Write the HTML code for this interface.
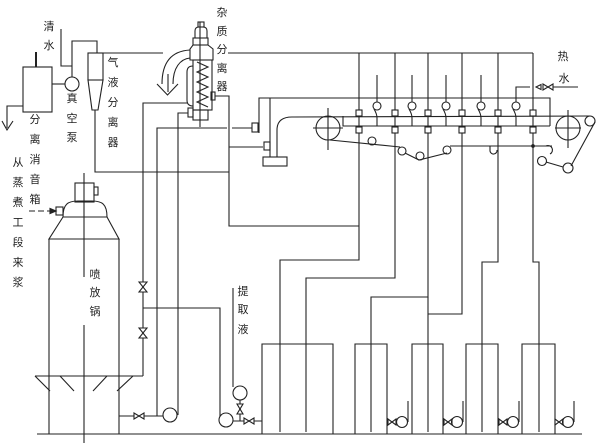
<!DOCTYPE html>
<html><head><meta charset="utf-8"><style>
html,body{margin:0;padding:0;background:#fff;}
svg{display:block;}
text{font-family:"Liberation Sans","Noto Sans CJK SC",sans-serif;font-size:11px;fill:#222;text-anchor:middle;dominant-baseline:central;}
</style></head><body>
<svg width="600" height="447" viewBox="0 0 600 447" xmlns="http://www.w3.org/2000/svg">
<g fill="none" stroke="#222" stroke-width="1.1">
<!-- left: water, separator box, pump, cyclone -->
<polyline points="61,29 61,66 72,66"/>
<line x1="36" y1="52" x2="36" y2="67" stroke-width="2"/>
<rect x="23" y="67" width="29" height="45"/>
<line x1="52" y1="84" x2="65" y2="84"/>
<circle cx="72" cy="84" r="7"/>
<polyline points="72,77 72,41 97,41 97,53"/>
<polyline points="23,106 7,106 7,128"/>
<polyline points="2,121 7,130 13,121"/>
<rect x="88" y="53" width="15" height="27"/>
<polygon points="88,80 103,80 98,110 92,110"/>
<polyline points="95,110 95,172 229,172"/>
<line x1="103" y1="53" x2="163" y2="53"/>
<line x1="228" y1="53" x2="533" y2="53"/>

<!-- impurity separator -->
<rect x="198" y="22" width="6" height="5"/>
<path d="M195,38 L195,31 Q195,27 199,27 L203,27 Q207,27 207,31 L207,38 Z"/>
<rect x="193" y="38" width="15" height="7"/>
<path d="M193,45 L208,45 L213,49 L213,60 L190,60 L190,49 Z"/>
<rect x="193" y="60" width="19" height="50"/>
<polyline points="197,62 208,67 197,72 208,77 197,82 208,87 197,92 208,97 197,102 208,107"/>
<path d="M193,66 Q187,66 187,72 L187,100 Q187,106 193,106"/>
<rect x="193" y="110" width="15" height="10"/>
<line x1="200" y1="22" x2="200" y2="127"/>
<rect x="188" y="108" width="5" height="9"/>
<rect x="211" y="92" width="4" height="8"/>
<path d="M190,50 C172,51 162,62 162,84"/>
<path d="M190,58 C180,59 173,68 173,84"/>
<polyline points="157,84 167.5,95 178,84"/>
<line x1="168" y1="74" x2="168" y2="92"/>
<polyline points="215,96 229,96 229,226 359,226"/>
<line x1="229" y1="147" x2="263" y2="147"/>
<polyline points="143,376 143,103 187,103"/>
<polyline points="157,416 157,128 227,128"/>
<line x1="232" y1="128" x2="252" y2="128"/>
<polyline points="178,415 178,113 188,113"/>

<!-- washer left structure -->
<polyline points="259,133 259,98 550,98 550,126"/>
<line x1="270" y1="98" x2="270" y2="157"/>
<rect x="252" y="123" width="6" height="9"/>
<rect x="264" y="142" width="6" height="8"/>
<rect x="263" y="157" width="24" height="9"/>
<path d="M277,157 L277,130 Q277,117 292,117 L590,116"/>
<polyline points="343,116 343,126 550,126"/>
<circle cx="328" cy="128" r="12"/>
<line x1="313" y1="128" x2="343" y2="128"/>
<line x1="328" y1="108" x2="328" y2="150"/>
<circle cx="568" cy="128" r="12"/>
<line x1="555" y1="128" x2="581" y2="128"/>
<line x1="568" y1="110" x2="568" y2="148"/>
<!-- bottom wire -->
<polyline points="330,140 400,147"/>
<circle cx="372" cy="141" r="4"/>
<circle cx="402" cy="151" r="4"/>
<polyline points="405,153 419,160 447,153"/>
<circle cx="420" cy="156" r="4"/>
<circle cx="447" cy="150" r="4"/>
<line x1="450" y1="146" x2="552" y2="146"/>
<path d="M490,146 L490,151 A3.5,3.5 0 1 0 497,150"/>
<path d="M546,146 A4,4 0 1 1 550,154"/>
<circle cx="533" cy="146" r="1.3" fill="#222"/>
<circle cx="590" cy="121" r="5"/>
<line x1="595" y1="122" x2="571" y2="166"/>
<circle cx="568" cy="168" r="5"/>
<line x1="563" y1="167" x2="546" y2="162"/>
<circle cx="542" cy="161" r="4.5"/>
<!-- top rollers -->
<g>
<line x1="377" y1="75" x2="377" y2="102"/><circle cx="377" cy="106" r="4"/><path d="M374,109 Q377,114 377,118 L377,126"/>
<line x1="412" y1="75" x2="412" y2="102"/><circle cx="412" cy="106" r="4"/><path d="M409,109 Q412,114 412,118 L412,126"/>
<line x1="446" y1="75" x2="446" y2="102"/><circle cx="446" cy="106" r="4"/><path d="M443,109 Q446,114 446,118 L446,126"/>
<line x1="481" y1="75" x2="481" y2="102"/><circle cx="481" cy="106" r="4"/><path d="M478,109 Q481,114 481,118 L481,126"/>
<polyline points="516,102 516,87 530,87"/><circle cx="516" cy="106" r="4"/><path d="M513,109 Q516,114 516,118 L516,126"/>
</g>
<polygon points="536,87 541,84.5 541,89.5" fill="#fff"/>
<polygon points="543,84 543,90 548,87" fill="#fff"/>
<polygon points="553,84 553,90 548,87" fill="#fff"/>
<line x1="553" y1="87" x2="578" y2="87"/>
<!-- shower pipes -->
<polyline points="359,53 359,260 280,260 280,432"/>
<polyline points="395,53 395,278 306,278 306,432"/>
<polyline points="428,53 428,297 371,297 371,432"/>
<polyline points="428,297 428,432"/>
<polyline points="462,53 462,314 428,314"/>
<polyline points="498,53 498,262 482,262 482,432"/>
<polyline points="533,53 533,262 539,262 539,432"/>
<g fill="#fff">
<rect x="356" y="110" width="6" height="6"/><rect x="356" y="127" width="6" height="6"/>
<rect x="392" y="110" width="6" height="6"/><rect x="392" y="127" width="6" height="6"/>
<rect x="425" y="110" width="6" height="6"/><rect x="425" y="127" width="6" height="6"/>
<rect x="459" y="110" width="6" height="6"/><rect x="459" y="127" width="6" height="6"/>
<rect x="495" y="110" width="6" height="6"/><rect x="495" y="127" width="6" height="6"/>
<rect x="530" y="110" width="6" height="6"/><rect x="530" y="127" width="6" height="6"/>
</g>

<!-- blow tank -->
<rect x="75" y="183" width="19" height="19"/>
<rect x="94" y="187" width="4" height="8"/>
<path d="M63,217 C63,204 68,201 78,201 L92,201 C102,201 107,204 107,217 Z"/>
<polyline points="63,217 49,239 119,239 107,217"/>
<line x1="49" y1="239" x2="49" y2="434"/>
<line x1="119" y1="239" x2="119" y2="434"/>
<rect x="56" y="207" width="7" height="8"/>
<line x1="29" y1="211" x2="52" y2="211" stroke-dasharray="6,3"/>
<polygon points="56,211 50,208.5 50,213.5" fill="#222"/>
<line x1="84" y1="173" x2="84" y2="277"/>
<line x1="84" y1="325" x2="84" y2="443"/>
<line x1="35" y1="376" x2="143" y2="376"/>
<line x1="35" y1="376" x2="50" y2="391"/>
<line x1="60" y1="376" x2="74" y2="391"/>
<line x1="107" y1="376" x2="93" y2="391"/>
<line x1="133" y1="376" x2="117" y2="391"/>
<polygon points="139,282 147,282 143,287" fill="#fff"/>
<polygon points="139,292 147,292 143,287" fill="#fff"/>
<polygon points="139,328 147,328 143,333" fill="#fff"/>
<polygon points="139,338 147,338 143,333" fill="#fff"/>
<polyline points="143,308 220,308 220,416"/>
<line x1="119" y1="416" x2="163" y2="416"/>
<polygon points="134,413 134,419 139,416" fill="#fff"/>
<polygon points="144,413 144,419 139,416" fill="#fff"/>
<circle cx="170" cy="415" r="7"/>

<!-- extract liquor -->
<line x1="233" y1="288" x2="233" y2="387"/>
<circle cx="240" cy="393" r="7"/>
<line x1="240" y1="400" x2="240" y2="421"/>
<polygon points="237,404 243,404 240,409" fill="#fff"/>
<polygon points="237,414 243,414 240,409" fill="#fff"/>
<circle cx="226" cy="420" r="7"/>
<line x1="233" y1="421" x2="262" y2="421"/>
<polygon points="244,418 244,424 249,421" fill="#fff"/>
<polygon points="254,418 254,424 249,421" fill="#fff"/>

<!-- tanks -->
<line x1="37" y1="434" x2="582" y2="434"/>
<polyline points="262,434 262,344 333,344 333,434"/>
<polyline points="355,434 355,344 387,344 387,434"/>
<polyline points="412,434 412,344 443,344 443,434"/>
<polyline points="466,434 466,344 498,344 498,434"/>
<polyline points="522,434 522,344 555,344 555,434"/>
<g>
<line x1="387" y1="422" x2="397" y2="422"/><polygon points="388,419 388,425 392,422" fill="#fff"/><polygon points="396,419 396,425 392,422" fill="#fff"/><circle cx="402" cy="422" r="5.5"/><line x1="408" y1="401" x2="408" y2="422"/>
<line x1="443" y1="422" x2="452" y2="422"/><polygon points="444,419 444,425 448,422" fill="#fff"/><polygon points="452,419 452,425 448,422" fill="#fff"/><circle cx="457" cy="422" r="5.5"/><line x1="463" y1="401" x2="463" y2="422"/>
<line x1="498" y1="422" x2="508" y2="422"/><polygon points="499,419 499,425 503,422" fill="#fff"/><polygon points="507,419 507,425 503,422" fill="#fff"/><circle cx="513" cy="422" r="5.5"/><line x1="519" y1="401" x2="519" y2="422"/>
<line x1="555" y1="422" x2="563" y2="422"/><polygon points="555,419 555,425 559,422" fill="#fff"/><polygon points="563,419 563,425 559,422" fill="#fff"/><circle cx="568" cy="422" r="5.5"/><line x1="574" y1="401" x2="574" y2="422"/>
</g>
</g>

<!-- labels -->
<text x="49" y="27">清</text><text x="49" y="46">水</text>
<text x="72" y="99">真</text><text x="72" y="119">空</text><text x="72" y="138">泵</text>
<text x="35" y="120">分</text><text x="35" y="140">离</text><text x="35" y="160">消</text><text x="35" y="180">音</text><text x="35" y="200">箱</text>
<text x="113" y="63">气</text><text x="113" y="83">液</text><text x="113" y="103">分</text><text x="113" y="123">离</text><text x="113" y="143">器</text>
<text x="18" y="163">从</text><text x="18" y="183">蒸</text><text x="18" y="203">煮</text><text x="18" y="223">工</text><text x="18" y="243">段</text><text x="18" y="263">来</text><text x="18" y="283">浆</text>
<text x="222" y="13">杂</text><text x="222" y="32">质</text><text x="222" y="50">分</text><text x="222" y="69">离</text><text x="222" y="87">器</text>
<text x="563" y="57">热</text><text x="564" y="79">水</text>
<text x="95" y="275">喷</text><text x="95" y="293">放</text><text x="95" y="312">锅</text>
<text x="243" y="292">提</text><text x="243" y="310">取</text><text x="243" y="330">液</text>
</svg>
</body></html>
